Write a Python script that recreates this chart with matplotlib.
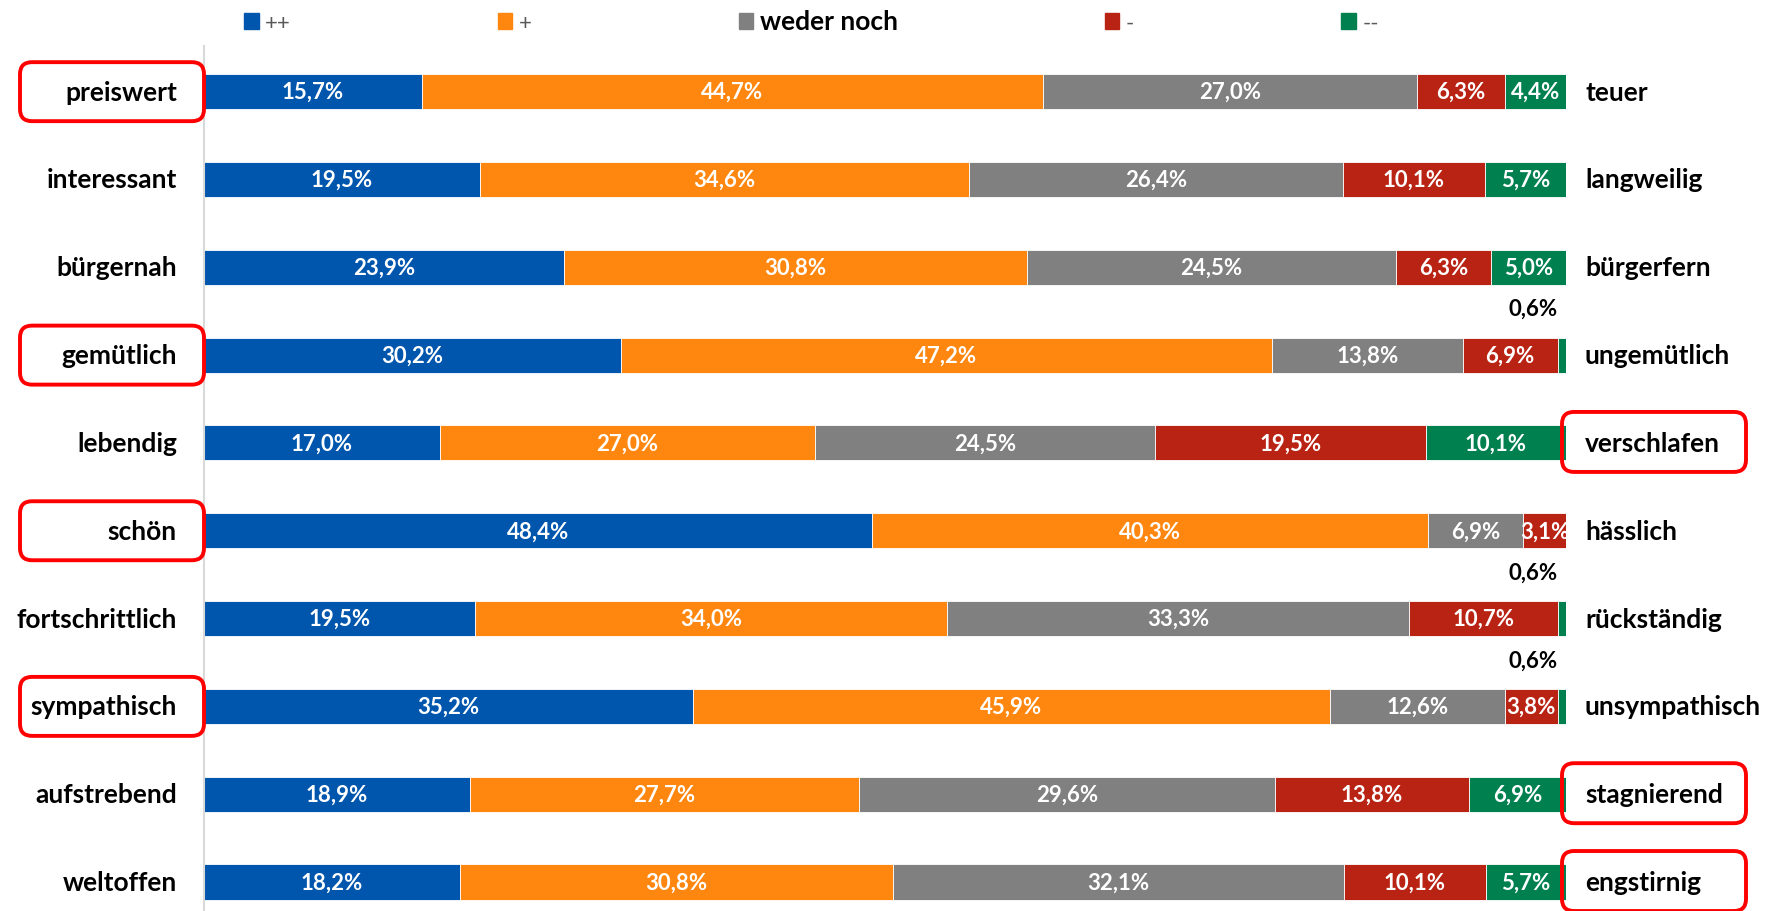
import matplotlib.pyplot as plt
import numpy as np
from matplotlib.patches import FancyBboxPatch, Patch
from matplotlib.transforms import IdentityTransform, blended_transform_factory

plt.rcParams['font.family'] = ['Lato', 'DejaVu Sans']

# Daten (Anteile in %, Reihenfolge von oben nach unten)
links = ['preiswert', 'interessant', 'bürgernah', 'gemütlich', 'lebendig',
         'schön', 'fortschrittlich', 'sympathisch', 'aufstrebend', 'weltoffen']
rechts = ['teuer', 'langweilig', 'bürgerfern', 'ungemütlich', 'verschlafen',
          'hässlich', 'rückständig', 'unsympathisch', 'stagnierend', 'engstirnig']
kategorien = ['++', '+', 'weder noch', '-', '--']
werte = np.array([
    [15.7, 44.7, 27.0, 6.3, 4.4],
    [19.5, 34.6, 26.4, 10.1, 5.7],
    [23.9, 30.8, 24.5, 6.3, 5.0],
    [30.2, 47.2, 13.8, 6.9, 0.6],
    [17.0, 27.0, 24.5, 19.5, 10.1],
    [48.4, 40.3, 6.9, 3.1, 0.0],
    [19.5, 34.0, 33.3, 10.7, 0.6],
    [35.2, 45.9, 12.6, 3.8, 0.6],
    [18.9, 27.7, 29.6, 13.8, 6.9],
    [18.2, 30.8, 32.1, 10.1, 5.7],
])
markiert_links = ['preiswert', 'gemütlich', 'schön', 'sympathisch']
markiert_rechts = ['verschlafen', 'stagnierend', 'engstirnig']

farben = ['#0055AD', '#FF870F', '#808080', '#B92314', '#00804F']

W, H = 1773, 912
fig = plt.figure(figsize=(W / 100, H / 100), dpi=100)
ax = fig.add_axes([204 / W, 0, (1566 - 204) / W, 1 - 47 / H])

# 100%-Balken: jede Zeile auf ihre Summe normiert
anteile = werte / werte.sum(axis=1, keepdims=True) * 100
y = np.arange(len(links))
start = np.zeros(len(links))

def fmt(v):
    return f'{v:.1f}%'.replace('.', ',')

for k in range(len(kategorien)):
    ax.barh(y, anteile[:, k], left=start, height=0.4, color=farben[k],
            edgecolor='white', linewidth=0.6, label=kategorien[k])
    for i in range(len(links)):
        v = werte[i, k]
        if v == 0:
            continue
        if v < 1:
            ax.text(99.4, y[i] - 0.53, fmt(v), ha='right', va='center',
                    fontsize=16, fontweight='bold', color='black')
        else:
            ax.text(start[i] + anteile[i, k] / 2, y[i], fmt(v), ha='center',
                    va='center', fontsize=16, fontweight='bold', color='white')
    start += anteile[:, k]

ax.set_xlim(0, 100)
ax.set_ylim(9.33, -0.52)
ax.set_xticks([])
ax.set_yticks([])
for s in ['top', 'right', 'bottom']:
    ax.spines[s].set_visible(False)
ax.spines['left'].set_color('#D9D9D9')
ax.spines['left'].set_linewidth(1.5)

tr = blended_transform_factory(fig.transFigure, ax.transData)
for i in range(len(links)):
    ax.text(177 / W, y[i], links[i], transform=tr, ha='right', va='center',
            fontsize=19, fontweight='bold', clip_on=False)
    ax.text(1585 / W, y[i], rechts[i], transform=tr, ha='left',
            va='center', fontsize=19, fontweight='bold', clip_on=False)

# rote Markierungen
for i in range(len(links)):
    yc = ax.transData.transform((0, y[i]))[1]
    if links[i] in markiert_links:
        fig.add_artist(FancyBboxPatch((20, yc - 29.5), 184, 59,
                                      boxstyle='round,pad=0,rounding_size=12',
                                      transform=IdentityTransform(), fill=False,
                                      edgecolor='#FF0000', linewidth=2.8))
    if rechts[i] in markiert_rechts:
        fig.add_artist(FancyBboxPatch((1562, yc - 29), 184, 60,
                                      boxstyle='round,pad=0,rounding_size=12',
                                      transform=IdentityTransform(), fill=False,
                                      edgecolor='#FF0000', linewidth=2.8))

handles = [Patch(color=c) for c in farben]
leg = fig.legend(handles, kategorien, loc='center left',
                 bbox_to_anchor=(244 / W, 1 - 21.5 / H), ncol=5, frameon=False,
                 handlelength=0.66, handleheight=0.7, handletextpad=0.3,
                 columnspacing=9.3, borderaxespad=0, borderpad=0,
                 prop={'size': 16})
for t in leg.get_texts():
    if t.get_text() == 'weder noch':
        t.set_fontsize(19)
        t.set_fontweight('bold')
        t.set_color('black')
    else:
        t.set_color('#595959')

fig.savefig('out.png', dpi=100)
